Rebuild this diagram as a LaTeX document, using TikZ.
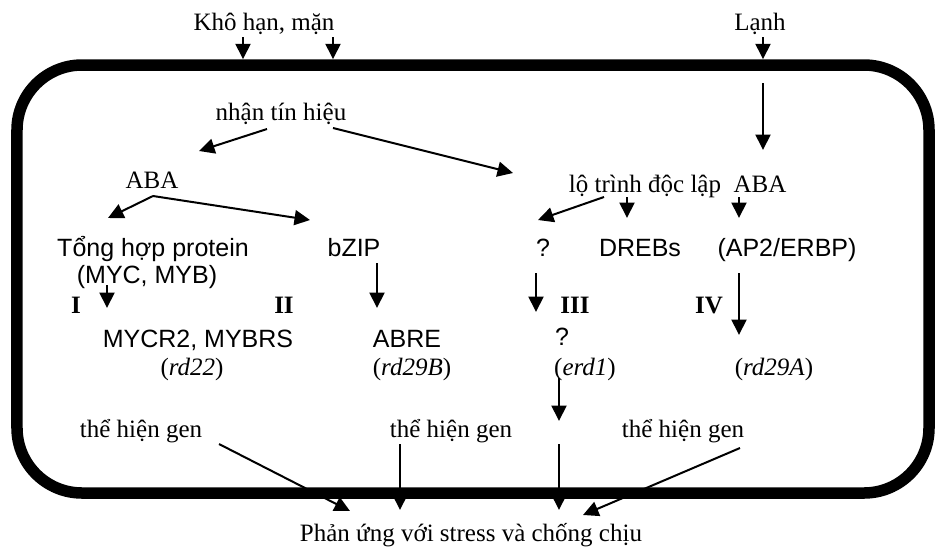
\documentclass[tikz,border=0pt]{standalone}
\usepackage{fontspec}
\setmainfont{Liberation Serif}
\setsansfont{Liberation Sans}
\usetikzlibrary{arrows.meta}

\begin{document}
\begin{tikzpicture}[x=0.4pt,y=-0.4pt,
  lbl/.style={anchor=base,inner sep=0pt,font=\fontsize{10}{12}\selectfont},
  slbl/.style={anchor=base,inner sep=0pt,font=\fontsize{10}{12}\selectfont\sffamily},
  num/.style={anchor=base,inner sep=0pt,font=\fontsize{10}{12}\selectfont\bfseries},
  arr/.style={line width=0.8pt,-{Triangle[length=6.2pt,width=6pt]}}]
\useasboundingbox (0,0) rectangle (935,555);
\node[draw,line width=4.6pt,rounded corners=26pt,minimum width=364.8pt,minimum height=171.2pt,inner sep=0pt] (cell) at (473,279) {};

\node[lbl] (kh) at (264,30) {Khô hạn, mặn};
\node[lbl] (lanh) at (760,30) {Lạnh};
\node[lbl] (nhan) at (281,120) {nhận tín hiệu};
\node[lbl] (abaL) at (152,188) {ABA};
\node[lbl] (indep) at (645,192) {lộ trình độc lập};
\node[lbl] (abaR) at (760,192) {ABA};
\node[slbl] (tong) at (153,256) {Tổng hợp protein};
\node[slbl] (myc) at (147,283) {(MYC, MYB)};
\node[slbl] (bzip) at (354,256) {bZIP};
\node[slbl] (qa) at (543,256) {?};
\node[slbl] (drebs) at (640,256) {DREBs};
\node[slbl] (ap) at (787,256) {(AP2/ERBP)};
\node[num] (wI) at (76,313) {I};
\node[num] (wII) at (284,313) {II};
\node[num] (wIII) at (575,313) {III};
\node[num] (wIV) at (709,313) {IV};
\node[slbl] (mycr) at (198,347) {MYCR2, MYBRS};
\node[slbl] (abre) at (407,347) {ABRE};
\node[slbl] (qb) at (562,345) {?};
\node[lbl] (rdA) at (192,375) {(\textit{rd22})};
\node[lbl] (rdB) at (412,375) {(\textit{rd29B})};
\node[lbl] (erd) at (585,375) {(\textit{erd1})};
\node[lbl] (rdC) at (774,375) {(\textit{rd29A})};
\node[lbl] (geneA) at (141,437) {thể hiện gen};
\node[lbl] (geneB) at (451,437) {thể hiện gen};
\node[lbl] (geneC) at (683,437) {thể hiện gen};
\node[lbl] (resp) at (471,541) {Phản ứng với stress và chống chịu};

\coordinate (khA) at (243,37);
\coordinate (khB) at (333,37);
\coordinate (lanhA) at (763,37);
\coordinate (coldA) at (763,83);
\coordinate (coldB) at (763,150);
\coordinate (nhanL) at (267,129);
\coordinate (nhanR) at (333,128);
\coordinate (abaLin) at (199,151);
\coordinate (indepIn) at (513,173);
\coordinate (abaLout) at (153,196);
\coordinate (tongIn) at (108,218);
\coordinate (bzipIn) at (310,220);
\coordinate (indepOut) at (604,197);
\coordinate (qaIn) at (538,220);
\coordinate (drebsA) at (627,197);
\coordinate (drebsB) at (627,218);
\coordinate (apA) at (739,197);
\coordinate (apB) at (739,218);
\coordinate (mycA) at (107,285);
\coordinate (mycB) at (107,308);
\coordinate (bzipA) at (377,263);
\coordinate (bzipB) at (377,308);
\coordinate (qaA) at (536,273);
\coordinate (qaB) at (536,312);
\coordinate (apC) at (739,273);
\coordinate (apD) at (739,335);
\coordinate (erdA) at (559,378);
\coordinate (erdB) at (559,421);
\coordinate (geneAout) at (219,444);
\coordinate (geneBout) at (400,444);
\coordinate (erdC) at (559,444);
\coordinate (geneCout) at (740,448);
\coordinate (respA) at (350,511);
\coordinate (respB) at (400,510);
\coordinate (respC) at (559,510);
\coordinate (respD) at (583,515);

\draw[arr] (khA) -- (khA |- cell.north);
\draw[arr] (khB) -- (khB |- cell.north);
\draw[arr] (lanhA) -- (lanhA |- cell.north);
\draw[arr] (coldA) -- (coldB);
\draw[arr] (nhanL) -- (abaLin);
\draw[arr] (nhanR) -- (indepIn);
\draw[arr] (abaLout) -- (tongIn);
\draw[arr] (abaLout) -- (bzipIn);
\draw[arr] (indepOut) -- (qaIn);
\draw[arr] (drebsA) -- (drebsB);
\draw[arr] (apA) -- (apB);
\draw[arr] (mycA) -- (mycB);
\draw[arr] (bzipA) -- (bzipB);
\draw[arr] (qaA) -- (qaB);
\draw[arr] (apC) -- (apD);
\draw[arr] (erdA) -- (erdB);
\draw[arr] (geneAout) -- (respA);
\draw[arr] (geneBout) -- (respB);
\draw[arr] (erdC) -- (respC);
\draw[arr] (geneCout) -- (respD);
\end{tikzpicture}
\end{document}
